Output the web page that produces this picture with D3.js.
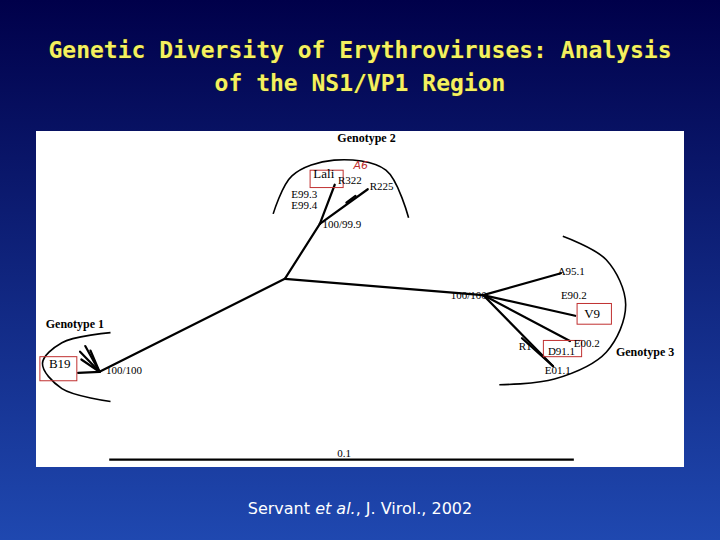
<!DOCTYPE html>
<html><head><meta charset="utf-8">
<script src="https://cdn.jsdelivr.net/npm/d3@7"></script>
<style>body{margin:0;}svg{display:block}</style></head>
<body><svg id="c" width="720" height="540"></svg>
<script>
const titleLines=["Genetic Diversity of Erythroviruses: Analysis","of the NS1/VP1 Region"];
const nodes={root:[38.4,26.4],g2:[43.8,16.6],g3:[69,29.3],g1:[9.8,43.0],
 lali:[46.1,9.6],r225:[51.2,10.4],r322b:[49.3,11.6],r322:[47.9,12.8],
 a95:[81,25.4],v9:[83.2,33],e90:[81,31],e00:[82.4,37.5],e01:[79.8,42],r1:[75,37],
 b1:[6.8,39.4],b2:[7.6,38.4],b3:[8.4,39.2],b4:[6.5,43.2],b5:[7.0,40.8]};
const edges=[["root","g2"],["g2","lali"],["g2","r225"],["r322","r322b"],["root","g3"],["g3","a95"],["g3","v9"],["g3","e00"],["g3","e01"],["e01","r1"],["root","g1"],["g1","b1"],["g1","b2"],["g1","b3"],["g1","b4"],["g1","b5"]];
const labels=[["Lali",[42.8,7.6]],["R322",[46.6,8.7]],["R225",[51.5,9.8]],["E99.3",[39.4,11.3]],["E99.4",[39.4,13.3]],["100/99.9",[44.2,16.6]],
 ["A95.1",[80.5,25]],["E90.2",[81,29.2]],["V9",[84.6,32.6]],["100/100",[64,29.2]],["R1",[74.5,38.4]],["D91.1",[79,39.2]],["E00.2",[83,37.9]],["E01.1",[78.5,42.7]],
 ["B19",[2,41.6]],["100/100",[10.8,42.6]],["0.1",[46.5,57.5]]];
const genotypes=[["Genotype 1",[1.5,34.4]],["Genotype 2",[46.5,1.2]],["Genotype 3",[89.5,39.4]]];
const boxes=[[[42.3,7],[47.4,10.1]],[[83.5,30.8],[88.8,34.5]],[[78.3,37.4],[84.2,40.3]],[[0.6,40.3],[6.3,44.6]]];
const arcs=[[[36.6,14.8],[39.5,8],[46,5.2],[54,7],[57.5,15.5]],
 [[81.3,18.8],[88,23],[91,31],[88,39.5],[80,44.3],[71.5,45.3]],
 [[11.5,36.0],[4,37.8],[1,41.5],[4,46],[11.5,48.3]]];
const scaleBar=[[11.3,58.7],[83,58.7]];

const svg=d3.select("#c");
const defs=svg.append("defs");
const g=defs.append("linearGradient").attr("id","bg").attr("x1",0).attr("y1",0).attr("x2",0).attr("y2",1);
g.append("stop").attr("offset",0).attr("stop-color","#00004a");
g.append("stop").attr("offset",1).attr("stop-color","#1f48b0");
svg.append("rect").attr("width",720).attr("height",540).attr("fill","url(#bg)");
svg.selectAll("text.t").data(titleLines).join("text").attr("x",360).attr("y",(d,i)=>58+i*33)
 .attr("text-anchor","middle").attr("fill","#f4f060").attr("font-family","DejaVu Sans Mono").attr("font-weight","bold").attr("font-size",23).text(d=>d)
 .attr("style","paint-order:stroke").attr("stroke","#303000").attr("stroke-width",0.6);
svg.append("rect").attr("x",36).attr("y",131).attr("width",648).attr("height",336).attr("fill","#fff");
const x=d3.scaleLinear().domain([0,100]).range([36,684]);
const y=d3.scaleLinear().domain([0,60]).range([131,467]);
const P=p=>[x(p[0]),y(p[1])];
const line=d3.line().x(d=>x(d[0])).y(d=>y(d[1]));
svg.selectAll("line.e").data(edges).join("line").attr("x1",d=>P(nodes[d[0]])[0]).attr("y1",d=>P(nodes[d[0]])[1])
 .attr("x2",d=>P(nodes[d[1]])[0]).attr("y2",d=>P(nodes[d[1]])[1]).attr("stroke","#000").attr("stroke-width",2.2).attr("stroke-linecap","round");
svg.selectAll("path.a").data(arcs).join("path").attr("d",d=>line.curve(d3.curveCatmullRom)(d)).attr("fill","none").attr("stroke","#000").attr("stroke-width",1.6);
svg.append("path").attr("d",line.curve(d3.curveLinear)(scaleBar)).attr("stroke","#000").attr("stroke-width",2.2);
svg.selectAll("rect.b").data(boxes).join("rect").attr("x",d=>x(d[0][0])).attr("y",d=>y(d[0][1]))
 .attr("width",d=>x(d[1][0])-x(d[0][0])).attr("height",d=>y(d[1][1])-y(d[0][1])).attr("fill","none").attr("stroke","#c03030").attr("stroke-width",1);
svg.selectAll("text.l").data(labels).join("text").attr("x",d=>x(d[1][0])).attr("y",d=>y(d[1][1])+4)
 .attr("font-family","Liberation Serif").attr("font-size",d=>["Lali","V9","B19"].includes(d[0])?13:11).text(d=>d[0]);
svg.selectAll("text.g").data(genotypes).join("text").attr("x",d=>x(d[1][0])).attr("y",d=>y(d[1][1])+4)
 .attr("font-family","Liberation Serif").attr("font-weight","bold").attr("font-size",12).text(d=>d[0]);
svg.append("text").attr("x",x(49)).attr("y",y(6.8)).attr("fill","#c03030").attr("font-family","DejaVu Sans").attr("font-style","italic").attr("font-size",11).text("A6");
const cap=svg.append("text").attr("x",360).attr("y",514).attr("text-anchor","middle").attr("fill","#fff").attr("font-family","DejaVu Sans").attr("font-size",16);
cap.append("tspan").text("Servant ");cap.append("tspan").attr("font-style","italic").text("et al.");cap.append("tspan").text(", J. Virol., 2002");
</script></body></html>
